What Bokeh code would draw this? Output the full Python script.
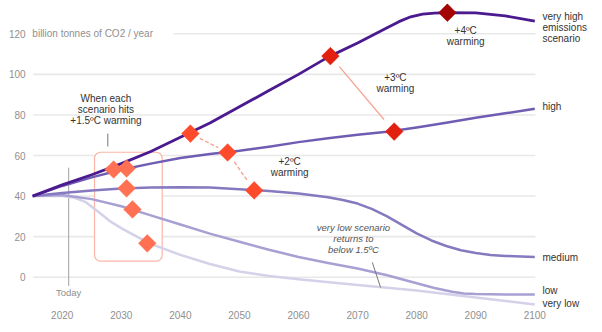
from bokeh.plotting import figure
from bokeh.models import Range1d
from bokeh.core.properties import value
from bokeh.embed import file_html
from bokeh.resources import INLINE
import math

# ---------------- data ----------------
vh_years = [2015, 2020, 2025, 2030, 2035, 2040, 2045, 2050, 2055, 2060, 2065, 2070, 2075, 2077, 2079, 2081, 2083, 2085, 2090, 2095, 2100]
vh_vals = [40, 45.5, 50.5, 56, 62, 69, 76, 84, 92, 100, 108.5, 115.5, 123, 126, 128.4, 129.7, 130.2, 130.4, 130.3, 128.8, 126.3]

hi_years = [2015, 2020, 2025, 2030, 2035, 2040, 2045, 2050, 2055, 2060, 2065, 2070, 2075, 2080, 2085, 2090, 2095, 2100]
hi_vals = [40, 45, 49.2, 53, 56, 58.8, 60.7, 62.3, 64.3, 66.6, 68.5, 70.2, 71.7, 73.8, 76.2, 78.6, 80.8, 83]

med_years = [2015, 2020, 2025, 2030, 2035, 2040, 2045, 2050, 2055, 2060, 2065, 2067.5, 2070, 2072.5, 2075, 2077.5, 2080, 2082.5, 2085, 2087.5, 2090, 2092.5, 2095, 2100]
med_vals = [40, 41.5, 42.8, 43.7, 44.2, 44.4, 44.2, 43.4, 42.5, 41.3, 39.4, 38.1, 36.3, 33.6, 30.0, 25.8, 21.6, 18.1, 15.4, 13.3, 11.9, 11.0, 10.5, 10]

low_years = [2015, 2020, 2025, 2030, 2035, 2040, 2045, 2050, 2055, 2060, 2065, 2070, 2075, 2080, 2083, 2086, 2088, 2090, 2095, 2100]
low_vals = [40, 40.5, 38.5, 35, 30.5, 26, 21.5, 17.5, 13.5, 10, 7, 4.3, 1, -3, -5.3, -7.2, -8, -8.3, -8.5, -8.5]

vlow_years = [2015, 2020, 2022, 2024, 2026, 2028, 2030, 2032, 2035, 2040, 2045, 2050, 2055, 2060, 2070, 2080, 2090, 2100]
vlow_vals = [40, 40, 39.3, 37.0, 32.5, 27.8, 24.2, 21.0, 16.4, 11, 6.5, 2.8, 0.6, -1, -3.8, -6.5, -10, -13.4]

scenario_names = ["very high\nemissions\nscenario", "high", "medium", "low", "very low"]

# warming crossings (year, emissions)
w15_years = [2028.7, 2030.9, 2030.9, 2031.9, 2034.4]
w15_vals = [53.1, 53.6, 43.8, 33.4, 16.7]
w2_years = [2041.7, 2048.0, 2052.5]
w2_vals = [70.8, 61.5, 42.8]
w3_years = [2065.4, 2076.2]
w3_vals = [109.0, 71.8]
w4_years = [2085.2]
w4_vals = [130.4]

x_ticks = [2020, 2030, 2040, 2050, 2060, 2070, 2080, 2090, 2100]
x_tick_labels = [str(t) for t in x_ticks]
y_ticks = [0, 20, 40, 60, 80, 100, 120]
y_tick_labels = [str(t) for t in y_ticks]
unit_label = "billion tonnes of CO2 / year"
today_year = 2021.1

# ---------------- styles ----------------
FONT = value("Liberation Sans")
C_VH = "#4a1a8e"
C_HI = "#6f5db3"
C_MED = "#8679bf"
C_LOW = "#a7a0d3"
C_VLOW = "#d4d1e9"
C_15 = "#ff7152"
C_2 = "#ff4a2b"
C_3 = "#e2200f"
C_4 = "#a30303"
C_LINK = "#f7a090"
TXT = "#333333"
TICK = "#8f8f8f"
GRID = "#e8e8e8"

p = figure(width=602, height=332, x_range=Range1d(2009.556, 2111.46),
           y_range=Range1d(-27.26, 136.42), min_border=0,
           toolbar_location=None, output_backend="svg")
p.axis.visible = False
p.grid.visible = False
p.outline_line_color = None
p.background_fill_color = "white"
p.border_fill_color = "white"

# gridlines (top one starts after the unit label)
grid_x0 = [2038.85 if t == 120 else 2015.1 for t in y_ticks]
p.segment(x0=grid_x0, y0=y_ticks, x1=[2100.1] * len(y_ticks), y1=y_ticks,
          line_color=GRID, line_width=1.6)

# y tick labels
p.text(x=[2013.8] * len(y_ticks), y=y_ticks, text=y_tick_labels, text_font=FONT,
       text_font_size="10px", text_color=TICK, text_align="right", text_baseline="middle")
p.text(x=[2014.95], y=[120], text=[unit_label], text_font=FONT, text_font_size="10px",
       text_color=TICK, text_align="left", text_baseline="middle")

# x tick labels
p.text(x=x_ticks, y=[-18.4] * len(x_ticks), text=x_tick_labels, text_font=FONT,
       text_font_size="10px", text_color=TICK, text_align="center", text_baseline="middle")

# today marker
p.segment(x0=[today_year], y0=[54], x1=[today_year], y1=[-4.3], line_color="#a0a0a0", line_width=1)
p.text(x=[today_year], y=[-7.6], text=["Today"], text_font=FONT, text_font_size="9.5px",
       text_color=TICK, text_align="center", text_baseline="middle")

# 1.5 box
p.quad(left=[2025.47], right=[2036.93], top=[61.6], bottom=[7.9], fill_color="white",
       fill_alpha=1, line_color="#fbb5a6", line_width=1.2, border_radius=6)

# scenario lines (light to dark)
p.line(vlow_years, vlow_vals, line_color=C_VLOW, line_width=2.5, line_join="round")
p.line(low_years, low_vals, line_color=C_LOW, line_width=2.5, line_join="round")
p.line(med_years, med_vals, line_color=C_MED, line_width=2.5, line_join="round")
p.line(hi_years, hi_vals, line_color=C_HI, line_width=2.5, line_join="round")
p.line(vh_years, vh_vals, line_color=C_VH, line_width=2.8, line_join="round")

# link lines between crossings (with gaps near markers)
def links(xs, ys, f0, f1):
    x0, y0, x1, y1 = [], [], [], []
    for i in range(len(xs) - 1):
        dx, dy = xs[i + 1] - xs[i], ys[i + 1] - ys[i]
        x0.append(xs[i] + f0 * dx); y0.append(ys[i] + f0 * dy)
        x1.append(xs[i] + f1 * dx); y1.append(ys[i] + f1 * dy)
    return x0, y0, x1, y1

a = links(w2_years, w2_vals, 0.25, 0.75)
p.segment(x0=a[0], y0=a[1], x1=a[2], y1=a[3], line_color=C_LINK, line_width=1.3, line_dash="4 2")
b = links(w3_years, w3_vals, 0.14, 0.84)
p.segment(x0=b[0], y0=b[1], x1=b[2], y1=b[3], line_color=C_LINK, line_width=1.2)

# markers
for xs, ys, c in [(w15_years, w15_vals, C_15), (w2_years, w2_vals, C_2),
                  (w3_years, w3_vals, C_3), (w4_years, w4_vals, C_4)]:
    p.scatter(xs, ys, marker="square", size=12.5, angle=math.pi / 4,
              fill_color=c, line_color=c, line_width=0.5)

# annotation text
def txt(x, ys, lines, style="normal", size="10px", align="center", color=TXT):
    p.text(x=[x] * len(lines), y=ys, text=lines, text_font=FONT, text_font_size=size,
           text_color=color, text_align=align, text_baseline="middle", text_font_style=style)

txt(2027.4, [88.1, 82.7, 77.3], ["When each", "scenario hits", "+1.5ºC warming"])
p.segment(x0=[2027.72], y0=[70.8], x1=[2027.72], y1=[64.4], line_color="#777777", line_width=1)
txt(2058.5, [57.0, 51.6], ["+2ºC", "warming"])
txt(2076.4, [98.4, 93.0], ["+3ºC", "warming"])
txt(2088.3, [121.6, 116.2], ["+4ºC", "warming"])
txt(2069.3, [24.5, 19.1, 13.7], ["very low scenario", "returns to", "below 1.5ºC"], style="italic",
    size="9.5px", color="#555555")
p.segment(x0=[2072.5], y0=[7.3], x1=[2073.9], y1=[-5.1], line_color="#777777", line_width=1)

# right-hand scenario labels
lab_x = 2101.3
txt(lab_x, [128.7, 123.3, 117.8], scenario_names[0].split("\n"), size="10px", align="left")
txt(lab_x, [84.2], [scenario_names[1]], size="10px", align="left")
txt(lab_x, [9.7], [scenario_names[2]], size="10px", align="left")
txt(lab_x, [-6.5], [scenario_names[3]], size="10px", align="left")
txt(lab_x, [-12.8], [scenario_names[4]], size="10px", align="left")

open("out.html", "w").write(file_html(p, INLINE))
